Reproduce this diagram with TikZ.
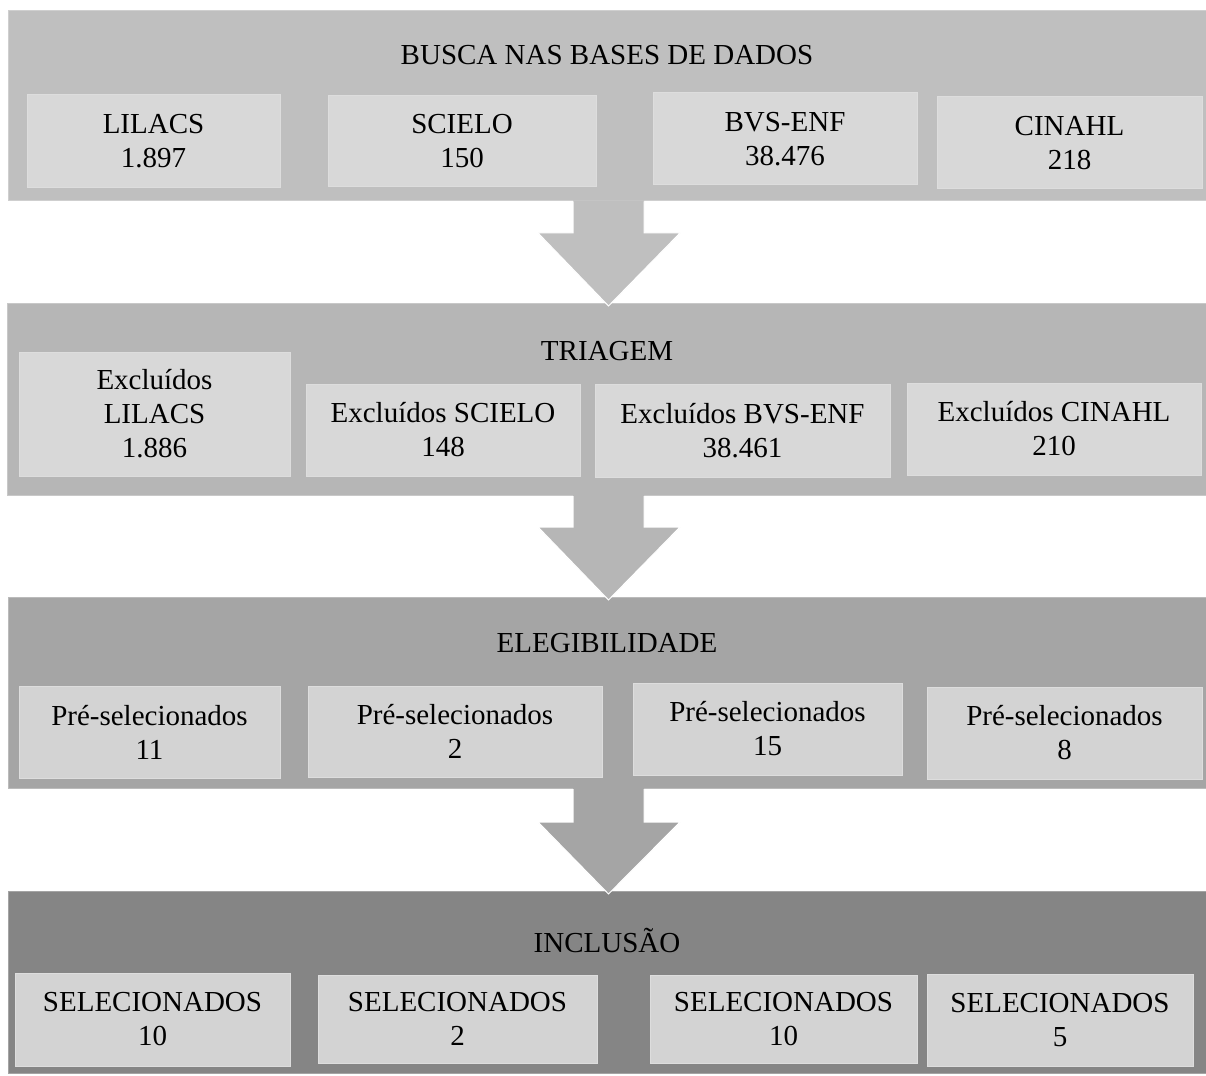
\documentclass[tikz,border=0pt]{standalone}
\usepackage{fontspec}
\setmainfont{Liberation Serif}
\usetikzlibrary{calc}
\definecolor{bandA}{HTML}{BFBFBF}
\definecolor{bandB}{HTML}{B6B6B6}
\definecolor{bandC}{HTML}{A5A5A5}
\definecolor{bandD}{HTML}{858585}
\definecolor{boxA}{HTML}{D8D8D8}
\definecolor{boxB}{HTML}{D3D3D3}
\definecolor{boxline}{HTML}{DDDDDD}
\newcommand{\downarrowshape}[5]{%
  \fill[#1] (573,#2) -- (573,#3) -- (538,#3) -- (608.5,#4) -- (680,#3) -- (644,#3) -- (644,#2) -- cycle;
  \draw[white, line width=1pt, line join=miter] (573,#5) -- (573,#3) -- (538,#3) -- (608.5,#4) -- (680,#3) -- (644,#3) -- (644,#5);
}
\begin{document}
\begin{tikzpicture}[x=1pt,y=-1pt,
  band/.style={rectangle, inner sep=0pt, draw=#1!75!white, line width=0.6pt, fill=#1},
  cell/.style={rectangle, inner sep=0pt, align=center, draw=boxline, line width=1pt, fill=#1,
    font=\fontsize{29}{34}\selectfont},
  ttl/.style={inner sep=0pt, font=\fontsize{29}{34}\selectfont}]
\useasboundingbox (0,0) rectangle (1206,1075);
\fill[white] (0,0) rectangle (1206,1075);

% bands
\node[band=bandA, minimum width=1198pt, minimum height=190.5pt] (B1) at (607,105.25) {};
\node[band=bandB, minimum width=1199pt, minimum height=191.5pt] (B2) at (606.5,399.25) {};
\node[band=bandC, minimum width=1198pt, minimum height=191pt] (B3) at (607,692.5) {};
\node[band=bandD, minimum width=1198pt, minimum height=182pt] (B4) at (607,982) {};

% arrows between bands
\downarrowshape{bandA}{200.5}{233}{306}{201.5}
\downarrowshape{bandB}{495}{527}{600}{496}
\downarrowshape{bandC}{788}{822}{894}{789}

% titles
\node[ttl] (t1) at (607,55) {BUSCA NAS BASES DE DADOS};
\node[ttl] (t2) at (607,351) {TRIAGEM};
\node[ttl] (t3) at (607,643) {ELEGIBILIDADE};
\node[ttl] (t4) at (607,940) {INCLUSÃO};

% row 1
\node[cell=boxA, minimum width=253pt, minimum height=93pt] (a1) at (153.5,141.5) {LILACS\\1.897};
\node[cell=boxA, minimum width=268pt, minimum height=91pt] (a2) at (462,141.5) {SCIELO\\150};
\node[cell=boxA, minimum width=264pt, minimum height=92pt] (a3) at (785,139) {BVS-ENF\\38.476};
\node[cell=boxA, minimum width=265pt, minimum height=92pt] (a4) at (1069.5,143) {CINAHL\\218};

% row 2
\node[cell=boxA, minimum width=271pt, minimum height=124pt] (b1) at (154.5,414) {Excluídos\\LILACS\\1.886};
\node[cell=boxA, minimum width=274pt, minimum height=92pt] (b2) at (443,430) {Excluídos SCIELO\\148};
\node[cell=boxA, minimum width=295pt, minimum height=93pt] (b3) at (742.5,430.5) {Excluídos BVS-ENF\\38.461};
\node[cell=boxA, minimum width=294pt, minimum height=92pt] (b4) at (1054,429) {Excluídos CINAHL\\210};

% row 3
\node[cell=boxB, minimum width=261pt, minimum height=92pt] (c1) at (149.5,732) {Pré-selecionados\\11};
\node[cell=boxB, minimum width=294pt, minimum height=91pt] (c2) at (455,731.5) {Pré-selecionados\\2};
\node[cell=boxB, minimum width=269pt, minimum height=92pt] (c3) at (767.5,729) {Pré-selecionados\\15};
\node[cell=boxB, minimum width=275pt, minimum height=92pt] (c4) at (1064.5,733) {Pré-selecionados\\8};

% row 4
\node[cell=boxB, minimum width=275pt, minimum height=93pt] (d1) at (152.5,1019.5) {SELECIONADOS\\10};
\node[cell=boxB, minimum width=279pt, minimum height=88pt] (d2) at (457.5,1019) {SELECIONADOS\\2};
\node[cell=boxB, minimum width=267pt, minimum height=88pt] (d3) at (783.5,1019) {SELECIONADOS\\10};
\node[cell=boxB, minimum width=266pt, minimum height=92pt] (d4) at (1060,1020) {SELECIONADOS\\5};
\end{tikzpicture}
\end{document}
